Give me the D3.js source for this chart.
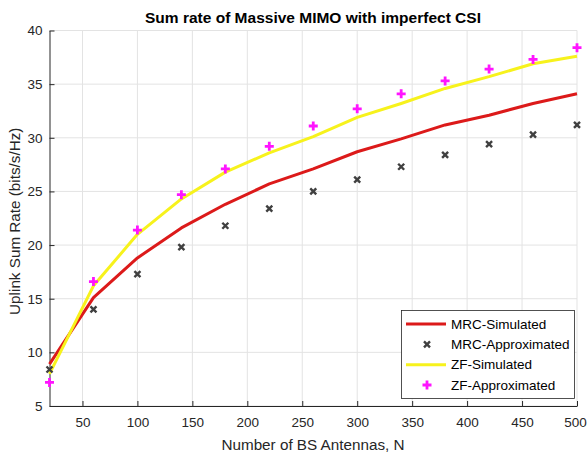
<!DOCTYPE html>
<html>
<head>
<meta charset="utf-8">
<script src="https://cdn.jsdelivr.net/npm/d3@7"></script>
<style>
  html, body { margin: 0; padding: 0; background: #fff; }
  svg { display: block; font-family: "Liberation Sans", Arial, sans-serif; }
</style>
</head>
<body>
<svg id="chart" width="587" height="459"></svg>
<script>
(function () {
    'use strict';

    // number of BS antennas
    const antennas = [20, 60, 100, 140, 180, 220, 260, 300, 340, 380, 420, 460, 500];
    const mrcSimulated = [8.9, 15.1, 18.8, 21.6, 23.8, 25.7, 27.1, 28.7, 29.9, 31.2, 32.1, 33.2, 34.1];
    const mrcApprox = [8.4, 14.0, 17.3, 19.8, 21.8, 23.4, 25.0, 26.1, 27.3, 28.4, 29.4, 30.3, 31.2];
    const zfSimulated = [8.0, 16.2, 21.0, 24.3, 26.8, 28.6, 30.1, 31.9, 33.2, 34.6, 35.7, 36.9, 37.6];
    const zfApprox = [7.2, 16.6, 21.4, 24.7, 27.1, 29.2, 31.1, 32.7, 34.1, 35.3, 36.4, 37.3, 38.4];

    const xTicks = [50, 100, 150, 200, 250, 300, 350, 400, 450, 500];
    const yTicks = [5, 10, 15, 20, 25, 30, 35, 40];
    const legendLabels = ["MRC-Simulated", "MRC-Approximated", "ZF-Simulated", "ZF-Approximated"];

    const margin = {top: 30.5, right: 10, bottom: 53, left: 49.5};
    const width = 587, height = 459;
    const axisColor = "#262626";
    const red = "#dc1a1a", yellow = "#f7f21c", magenta = "#ff14ff", cross = "#404040";

    const svg = d3.select("#chart");

    const x = d3.scaleLinear()
        .domain([20, 500])
        .range([margin.left, width - margin.right]);
    const y = d3.scaleLinear()
        .domain([5, 40])
        .range([height - margin.bottom, margin.top]);

    // grid
    const grid = svg.append("g")
        .attr("stroke", "#e3e3e3")
        .attr("stroke-width", 1);
    grid.selectAll("line.v")
        .data(xTicks)
        .join("line")
        .attr("class", "v")
        .attr("x1", d => x(d)).attr("x2", d => x(d))
        .attr("y1", y(5)).attr("y2", y(40));
    grid.selectAll("line.h")
        .data(yTicks)
        .join("line")
        .attr("class", "h")
        .attr("x1", x(20)).attr("x2", x(500))
        .attr("y1", d => y(d)).attr("y2", d => y(d));

    // axes, ticks pointing inwards
    const gx = svg.append("g")
        .attr("transform", `translate(0,${y(5)})`)
        .call(d3.axisBottom(x).tickValues(xTicks).tickSize(-5).tickPadding(11).tickSizeOuter(0));
    const gy = svg.append("g")
        .attr("transform", `translate(${x(20)},0)`)
        .call(d3.axisLeft(y).tickValues(yTicks).tickSize(-5).tickPadding(7).tickSizeOuter(0));

    [gx, gy].forEach(g => {
        g.select(".domain").attr("stroke", axisColor).attr("stroke-width", 1);
        g.selectAll(".tick line").attr("stroke", axisColor);
        g.selectAll(".tick text")
            .attr("fill", axisColor)
            .style("font-size", "13.5px")
            .style("font-family", "Liberation Sans, Arial, sans-serif");
    });
    // last label sits on the window edge
    gx.selectAll(".tick text").filter(d => d === 500).attr("dx", -2);

    const line = d3.line()
        .x((d, i) => x(antennas[i]))
        .y(d => y(d));

    svg.append("path")
        .datum(mrcSimulated)
        .attr("fill", "none")
        .attr("stroke", red)
        .attr("stroke-width", 3)
        .attr("stroke-linejoin", "round")
        .attr("d", line);

    svg.append("path")
        .datum(zfSimulated)
        .attr("fill", "none")
        .attr("stroke", yellow)
        .attr("stroke-width", 3)
        .attr("stroke-linejoin", "round")
        .attr("d", line);

    const crossPath = s => `M${-s},${-s}L${s},${s}M${-s},${s}L${s},${-s}`;
    const plusPath = s => `M${-s},0H${s}M0,${-s}V${s}`;

    svg.append("g")
        .selectAll("path")
        .data(mrcApprox)
        .join("path")
        .attr("transform", (d, i) => `translate(${x(antennas[i])},${y(d)})`)
        .attr("d", crossPath(3))
        .attr("stroke", cross)
        .attr("stroke-width", 2.4);

    svg.append("g")
        .selectAll("path")
        .data(zfApprox)
        .join("path")
        .attr("transform", (d, i) => `translate(${x(antennas[i])},${y(d)})`)
        .attr("d", plusPath(4.5))
        .attr("stroke", magenta)
        .attr("stroke-width", 2.8);

    // title and labels
    svg.append("text")
        .attr("x", 313)
        .attr("y", 22.5)
        .attr("text-anchor", "middle")
        .attr("fill", "#000")
        .style("font-size", "15.5px")
        .style("font-weight", "bold")
        .text("Sum rate of Massive MIMO with imperfect CSI");

    svg.append("text")
        .attr("x", 313)
        .attr("y", 450)
        .attr("text-anchor", "middle")
        .attr("fill", axisColor)
        .style("font-size", "15.25px")
        .text("Number of BS Antennas, N");

    svg.append("text")
        .attr("transform", `translate(19.5,${(y(5) + y(40)) / 2 + 3}) rotate(-90)`)
        .attr("text-anchor", "middle")
        .attr("fill", axisColor)
        .style("font-size", "15.25px")
        .text("Uplink Sum Rate (bits/s/Hz)");

    // legend
    const legend = svg.append("g");
    legend.append("rect")
        .attr("x", 401.5).attr("y", 310.5)
        .attr("width", 173).attr("height", 88)
        .attr("fill", "#fff")
        .attr("stroke", axisColor)
        .attr("stroke-width", 0.8);

    const rowY = d3.scalePoint().domain(legendLabels).range([324, 385]);
    const item = legend.selectAll("g.item")
        .data(legendLabels)
        .join("g")
        .attr("class", "item")
        .attr("transform", d => `translate(0,${rowY(d)})`);

    item.filter((d, i) => i === 0 || i === 2)
        .append("line")
        .attr("x1", 406).attr("x2", 446)
        .attr("stroke", (d, i) => i === 0 ? red : yellow)
        .attr("stroke-width", 3);
    item.filter((d, i) => i === 1)
        .append("path")
        .attr("transform", "translate(427,0)")
        .attr("d", crossPath(3))
        .attr("stroke", cross)
        .attr("stroke-width", 2.4);
    item.filter((d, i) => i === 3)
        .append("path")
        .attr("transform", "translate(427,0)")
        .attr("d", plusPath(4.5))
        .attr("stroke", magenta)
        .attr("stroke-width", 2.8);
    item.append("text")
        .attr("x", 451)
        .attr("dy", "0.35em")
        .attr("fill", "#000")
        .style("font-size", "13.5px")
        .text(d => d);
}());
</script>
</body>
</html>
